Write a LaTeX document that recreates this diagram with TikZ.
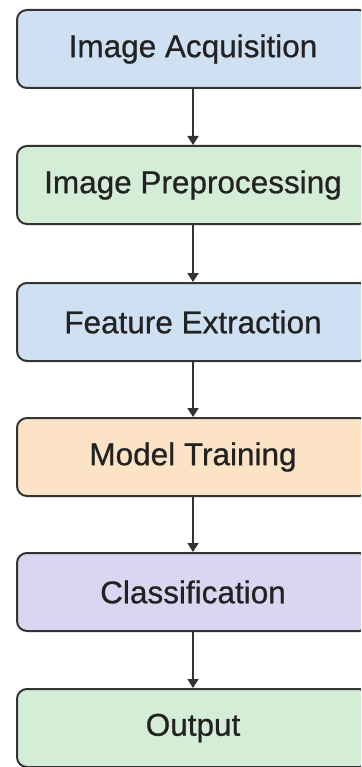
\documentclass[tikz,border=0pt]{standalone}
\usepackage{fontspec}
\setmainfont{Liberation Sans}
\newfontfamily\stagefont[FakeBold=0.7]{Liberation Sans}
\usetikzlibrary{arrows.meta}
\definecolor{bluefill}{HTML}{CFE0F2}
\definecolor{greenfill}{HTML}{D4EDD6}
\definecolor{orangefill}{HTML}{FDE3C5}
\definecolor{purplefill}{HTML}{DAD6F1}
\definecolor{edge}{HTML}{333333}
\definecolor{txt}{HTML}{222222}
\tikzset{
  x=1pt, y=1pt,
  stagebox/.style={draw=edge, line width=2pt, rounded corners=10pt,
    minimum width=352pt, minimum height=78pt, inner sep=0pt,
    text=txt, font=\stagefont\fontsize{31.5}{36}\selectfont},
  flow/.style={draw=edge, line width=1.8pt, -{Triangle[length=9pt,width=11pt]}},
}
\begin{document}
\begin{tikzpicture}
\useasboundingbox (0,0) rectangle (361,-767);
\clip (0,0) rectangle (361,-767);
\fill[white] (0,0) rectangle (361,-767);
\node[stagebox, fill=bluefill]   (acq)  at (193,-49)  {Image Acquisition};
\node[stagebox, fill=greenfill]  (pre)  at (193,-185) {Image Preprocessing};
\node[stagebox, fill=bluefill]   (feat) at (193,-322) {Feature Extraction};
\node[stagebox, fill=orangefill] (train) at (193,-457) {Model Training};
\node[stagebox, fill=purplefill] (cls)  at (193,-592) {Classification};
\node[stagebox, fill=greenfill]  (out)  at (193,-728) {Output};
\draw[flow] (acq) -- (pre);
\draw[flow] (pre) -- (feat);
\draw[flow] (feat) -- (train);
\draw[flow] (train) -- (cls);
\draw[flow] (cls) -- (out);
\end{tikzpicture}
\end{document}
